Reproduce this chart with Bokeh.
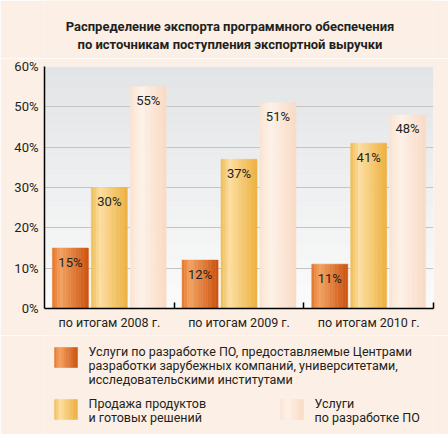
from bokeh.core.properties import value
from bokeh.embed import file_html
from bokeh.layouts import column
from bokeh.models import FixedTicker, PrintfTickFormatter, Range1d
from bokeh.plotting import figure
from bokeh.resources import INLINE

years = ["по итогам 2008 г.", "по итогам 2009 г.", "по итогам 2010 г."]
centers_services = [15, 12, 11]  # услуги центров разработки, вузов, НИИ
products = [30, 37, 41]  # продажа продуктов и готовых решений
dev_services = [55, 51, 48]  # услуги по разработке ПО
series_names = [
    "Услуги по разработке ПО, предоставляемые Центрами\nразработки зарубежных компаний, университетами,\nисследовательскими институтами",
    "Продажа продуктов\nи готовых решений",
    "Услуги\nпо разработке ПО",
]
y_ticks = [0, 10, 20, 30, 40, 50, 60]
title_lines = ["Распределение экспорта программного обеспечения",
               "по источникам поступления экспортной выручки"]

BG = "#fcefe5"
TXT = "#231f20"
FONT = "Roboto"

# horizontal gradients for bars (position, colour)
gradients = [
    [(0.0, "#e47526"), (0.22, "#f3a262"), (1.0, "#cc520e")],
    [(0.0, "#efbb56"), (0.25, "#fcdea0"), (1.0, "#edb03e")],
    [(0.0, "#fae2cf"), (0.3, "#fef2e8"), (1.0, "#f9dac4")],
]


def hex_to_rgb(c):
    c = c.lstrip("#")
    return [int(c[i:i + 2], 16) for i in (0, 2, 4)]


def mix(c1, c2, t):
    a, b = hex_to_rgb(c1), hex_to_rgb(c2)
    return "#" + "".join(f"{round(a[i] + (b[i] - a[i]) * t):02x}" for i in range(3))


def ramp(stops, n):
    cols = []
    for k in range(n):
        t = (k + 0.5) / n
        for (p0, c0), (p1, c1) in zip(stops, stops[1:]):
            if p0 <= t <= p1:
                cols.append(mix(c0, c1, (t - p0) / (p1 - p0)))
                break
    return cols


# frame in page pixels
F_LEFT, F_RIGHT, F_TOP, F_BOTTOM = 44, 433, 66, 308
TITLE_H = 58
MAIN_H = 335 - TITLE_H
LEG_H = 434 - 335


def strip(height):
    # axis-less figure; the column aligns its frame with the main one,
    # so the x range is set to page pixels of that frame
    f = figure(width=448, height=height, x_range=Range1d(F_LEFT, F_RIGHT), y_range=Range1d(height, 0),
               toolbar_location=None, output_backend="svg", x_axis_location=None, y_axis_location=None,
               min_border=0)
    f.background_fill_color = BG
    f.border_fill_color = BG
    f.outline_line_color = None
    f.grid.visible = False
    return f


top = strip(TITLE_H)
top.text(x=[229.5] * 2, y=[26, 44], text=title_lines, text_align="center", text_baseline="middle",
         text_font=value(FONT), text_font_size="13px", text_font_style="bold", text_color=TXT)

p = figure(width=448, height=MAIN_H, x_range=Range1d(0, 3), y_range=Range1d(0, 60),
           toolbar_location=None, output_backend="svg",
           min_border_left=F_LEFT, min_border_right=448 - F_RIGHT, min_border_top=F_TOP - TITLE_H,
           min_border_bottom=335 - F_BOTTOM)
p.background_fill_color = "#ffffff"
p.border_fill_color = BG
p.outline_line_color = None

# plot area background: grey at top fading to white
n_bg = 40
bg_cols = ramp([(0.0, "#fbfbfb"), (1.0, "#e2e4e6")], n_bg)
step = 60 / n_bg
p.quad(left=0, right=3, bottom=[k * step for k in range(n_bg)], top=[(k + 1) * step for k in range(n_bg)],
       fill_color=bg_cols, line_color=bg_cols, line_width=0.5, level="image")

# bars, each drawn as thin vertical slices to imitate the gradient
bar_w = 0.278
n_sl = 14
for j, vals in enumerate([centers_services, products, dev_services]):
    offset = (j - 1) * 0.30
    cols = ramp(gradients[j], n_sl)
    for k in range(n_sl):
        xs = [i + 0.5 + offset - bar_w / 2 + (k + 0.5) * bar_w / n_sl for i in range(len(years))]
        p.vbar(x=xs, top=vals, bottom=0, width=bar_w / n_sl, fill_color=cols[k], line_color=cols[k],
               line_width=0.5)
    p.text(x=[i + 0.5 + offset for i in range(len(years))], y=vals, text=[f"{v}%" for v in vals],
           text_align="center", text_baseline="middle", y_offset=14, text_font=value(FONT),
           text_font_size="13px", text_color=TXT)

p.xgrid.visible = False
p.ygrid.ticker = FixedTicker(ticks=y_ticks)
p.ygrid.grid_line_color = "#c4c4c4"
p.ygrid.grid_line_width = 1

p.yaxis.ticker = FixedTicker(ticks=y_ticks)
p.yaxis.formatter = PrintfTickFormatter(format="%d%%")
p.yaxis.major_tick_line_color = None
p.yaxis.minor_tick_line_color = None
p.yaxis.major_tick_in = 0
p.yaxis.major_tick_out = 0
p.yaxis.major_label_standoff = 6
p.yaxis.major_label_text_font_size = "13px"

p.xaxis.ticker = FixedTicker(ticks=[i + 0.5 for i in range(len(years))], minor_ticks=[1, 2, 3])
p.xaxis.major_label_overrides = {i + 0.5: y for i, y in enumerate(years)}
p.xaxis.major_tick_line_color = None
p.xaxis.major_tick_in = 0
p.xaxis.major_tick_out = 0
p.xaxis.minor_tick_line_color = "#000000"
p.xaxis.minor_tick_line_width = 1.5
p.xaxis.minor_tick_in = 6
p.xaxis.minor_tick_out = 0
p.xaxis.major_label_standoff = 6
p.xaxis.major_label_text_font_size = "12.5px"

for ax in (p.xaxis, p.yaxis):
    ax.axis_line_color = "#000000"
    ax.axis_line_width = 1.5
    ax.major_label_text_font = FONT
    ax.major_label_text_color = TXT

# legend
leg = strip(LEG_H)
swatches = [(54, 12), (54, 64), (280, 64)]  # left, top of each swatch
sw_w, sw_h = 23, 20
for j, name in enumerate(series_names):
    sx, sy = swatches[j]
    cols = ramp(gradients[j], 10)
    lefts = [sx + k * sw_w / 10 for k in range(10)]
    leg.quad(left=lefts, right=[l + sw_w / 10 for l in lefts], top=sy, bottom=sy + sw_h,
             fill_color=cols, line_color=cols, line_width=0.5)
    lines = name.split("\n")
    leg.text(x=[sx + 34] * len(lines), y=[sy + 4 + 14 * n for n in range(len(lines))], text=lines,
             text_align="left", text_baseline="middle", text_font=value(FONT), text_font_size="12.5px",
             text_color=TXT)

layout = column(top, p, leg, spacing=0)

open("out.html", "w").write(file_html(layout, INLINE))
